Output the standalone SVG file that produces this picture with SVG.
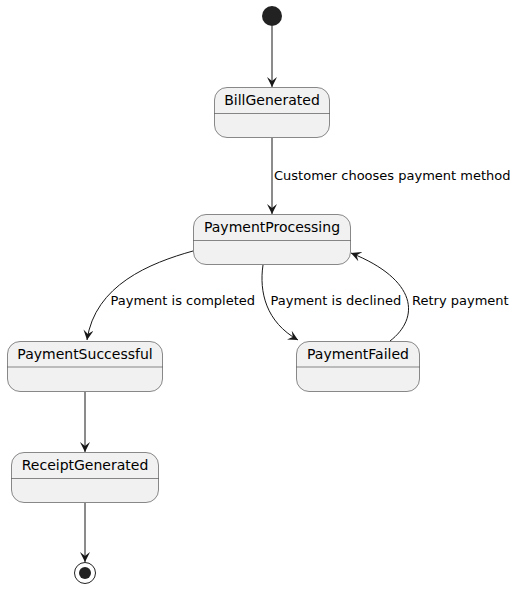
<svg xmlns="http://www.w3.org/2000/svg" width="516" height="590" viewBox="0 0 516 590">
<style>
.st{fill:#F1F1F1;stroke:#181818;stroke-width:0.5}
.dv{stroke:#181818;stroke-width:0.5}
.nm{font-family:"DejaVu Sans",sans-serif;font-size:14px;fill:#000;text-anchor:middle}
.lb{font-family:"DejaVu Sans",sans-serif;font-size:13px;fill:#000}
.ln{fill:none;stroke:#181818;stroke-width:1;marker-end:url(#ah)}
</style>
<defs>
<marker id="ah" viewBox="0 0 10 10" refX="10" refY="5" markerWidth="10" markerHeight="10" markerUnits="userSpaceOnUse" orient="auto">
<path d="M0,0 L10,5 L0,10 L4,5 Z" fill="#181818"/>
</marker>
</defs>
<g id="start"><circle cx="272" cy="16" r="10" fill="#222222"/></g>
<g id="BillGenerated">
<rect class="st" x="214.5" y="87.5" width="115" height="50" rx="12.5"/>
<line class="dv" x1="214.5" y1="113.5" x2="329.5" y2="113.5"/>
<text class="nm" x="272" y="105">BillGenerated</text>
</g>
<g id="PaymentProcessing">
<rect class="st" x="193.5" y="214.5" width="157" height="50" rx="12.5"/>
<line class="dv" x1="193.5" y1="240.5" x2="350.5" y2="240.5"/>
<text class="nm" x="272" y="232">PaymentProcessing</text>
</g>
<g id="PaymentSuccessful">
<rect class="st" x="7.5" y="341.5" width="155" height="50" rx="12.5"/>
<line class="dv" x1="7.5" y1="367" x2="162.5" y2="367"/>
<text class="nm" x="85" y="359">PaymentSuccessful</text>
</g>
<g id="PaymentFailed">
<rect class="st" x="296.5" y="341.5" width="123" height="50" rx="12.5"/>
<line class="dv" x1="296.5" y1="367" x2="419.5" y2="367"/>
<text class="nm" x="358" y="359">PaymentFailed</text>
</g>
<g id="ReceiptGenerated">
<rect class="st" x="11.5" y="452.5" width="147" height="50" rx="12.5"/>
<line class="dv" x1="11.5" y1="478.5" x2="158.5" y2="478.5"/>
<text class="nm" x="85" y="470">ReceiptGenerated</text>
</g>
<g id="end">
<circle cx="85" cy="573" r="10.5" fill="none" stroke="#222222" stroke-width="1"/>
<circle cx="85" cy="573" r="6" fill="#222222"/>
</g>
<g id="connectors">
<path class="ln" d="M272,26 L272,87"/>
<path class="ln" d="M272,138 L272,214"/>
<text class="lb" x="274" y="180">Customer chooses payment method</text>
<path class="ln" d="M193,251 C150,263 95,285 87,340"/>
<text class="lb" x="110.5" y="305">Payment is completed</text>
<path class="ln" d="M263,265 C259,292 266,322 298,340"/>
<text class="lb" x="270.5" y="305">Payment is declined</text>
<path class="ln" d="M390,341 C420,318 418,280 351,253"/>
<text class="lb" x="412" y="305">Retry payment</text>
<path class="ln" d="M85,392 L85,452"/>
<path class="ln" d="M85,503 L85,562"/>
</g>
</svg>
